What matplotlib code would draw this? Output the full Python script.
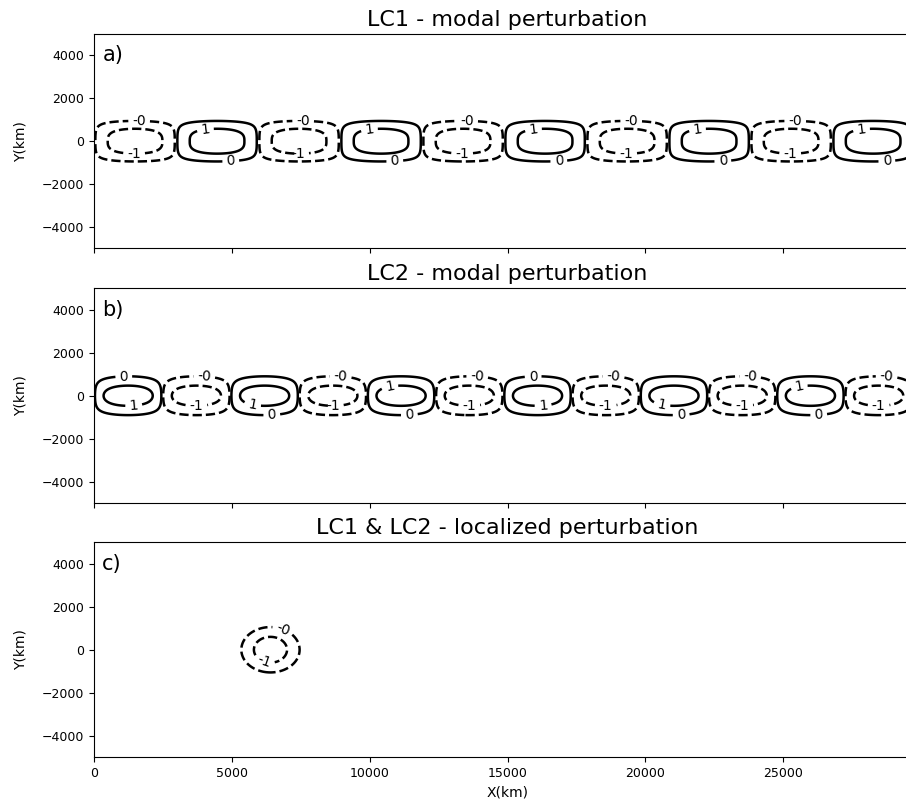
import numpy as np
import matplotlib
matplotlib.use("Agg")
import matplotlib.pyplot as plt

# ---- panel definitions -------------------------------------------------
titles = ["LC1 - modal perturbation",
          "LC2 - modal perturbation",
          "LC1 & LC2 - localized perturbation"]
panel_tags = ["a)", "b)", "c)"]

# contour levels and their printed labels (format %1.0f -> "-1", "-0", "0", "1")
levels = [-1.0, -0.1, 0.1, 1.0]

# modal perturbations: amplitude, zonal wavelength (km), meridional half-width (km),
# profile exponent and sign of the first half-wave
lc1_amp, lc1_wavelength, lc1_width, lc1_power, lc1_sign = 2.0, 5950.0, 655.0, 3.0, -1.0
lc2_amp, lc2_wavelength, lc2_width, lc2_power, lc2_sign = 2.35, 4950.0, 509.0, 2.0, 1.0

# localized perturbation: amplitude, centre (km), radius (km)
loc_amp, loc_x0, loc_y0, loc_radius = -3.0, 6400.0, 0.0, 573.0

x_lim = (0, 30000)
y_lim = (-5000, 5000)
y_ticks = [-4000, -2000, 0, 2000, 4000]
x_ticks = [0, 5000, 10000, 15000, 20000, 25000]

# ---- grid and fields ---------------------------------------------------
x = np.linspace(x_lim[0], x_lim[1], 1801)
y = np.linspace(y_lim[0], y_lim[1], 801)
X, Y = np.meshgrid(x, y)


def modal(amp, wl, width, power, sign):
    return sign * amp * np.sin(2 * np.pi * X / wl) * np.exp(-np.abs(Y / width) ** power)


field_a = modal(lc1_amp, lc1_wavelength, lc1_width, lc1_power, lc1_sign)
field_b = modal(lc2_amp, lc2_wavelength, lc2_width, lc2_power, lc2_sign)
field_c = loc_amp * np.exp(-((X - loc_x0) ** 2 + (Y - loc_y0) ** 2) / loc_radius ** 2)

# ---- label positions ---------------------------------------------------
def lc1_label_spots():
    spots = []
    half = lc1_wavelength / 2
    k = 0
    while (k + 0.5) * half < x_lim[1] - half / 2:
        c = (k + 0.5) * half
        if k % 2 == 0:   # negative cell
            spots += [(c + 150, 1100), (c - 35, -560)]
        else:
            spots += [(c - 430, 620), (c + 500, -1000)]
        k += 1
    return spots


def lc2_label_spots():
    spots = []
    half = lc2_wavelength / 2
    pos_styles = [[(-160, 930), (200, -420)],
                  [(-430, -380), (260, -880)],
                  [(-400, 380), (300, -880)]]
    k = 0
    n_pos = 0
    while (k + 0.5) * half < x_lim[1]:
        c = (k + 0.5) * half
        if k % 2 == 0:
            spots += [(c + dx, dy) for dx, dy in pos_styles[n_pos % 3]]
            n_pos += 1
        else:
            spots += [(c + 290, 950), (c, -420)]
        k += 1
    return spots


loc_spots = [(loc_x0 + 420, 840), (loc_x0 - 200, -420)]

# ---- figure ------------------------------------------------------------
fig = plt.figure(figsize=(9.06, 8.08), dpi=100)
left, width, height = 0.1038, 0.9128, 0.2655
bottoms = [0.6925, 0.3775, 0.0631]
axes = []
for i, b in enumerate(bottoms):
    ax = fig.add_axes([left, b, width, height], sharex=axes[0] if axes else None)
    axes.append(ax)

fields = [field_a, field_b, field_c]
spots = [lc1_label_spots(), lc2_label_spots(), loc_spots]

for ax, fld, title, tag, sp in zip(axes, fields, titles, panel_tags, spots):
    lv = [l for l in levels if fld.min() < l < fld.max()]
    cs = ax.contour(X, Y, fld, levels=lv, colors="k", linewidths=1.8)
    ax.clabel(cs, fmt="%1.0f", fontsize=10, inline=True, inline_spacing=4,
              manual=sp)
    ax.set_xlim(*x_lim)
    ax.set_ylim(*y_lim)
    ax.set_yticks(y_ticks)
    ax.set_xticks(x_ticks)
    ax.tick_params(labelsize=9)
    ax.set_title(title, fontsize=16)
    ax.set_ylabel("Y(km)", fontsize=10, labelpad=10)
    ax.text(0.01, 0.90, tag, transform=ax.transAxes, fontsize=15,
            va="center", ha="left")

for ax in axes[:-1]:
    ax.tick_params(labelbottom=False)
axes[-1].set_xlabel("X(km)", fontsize=10)

fig.savefig("out.png", dpi=100)
